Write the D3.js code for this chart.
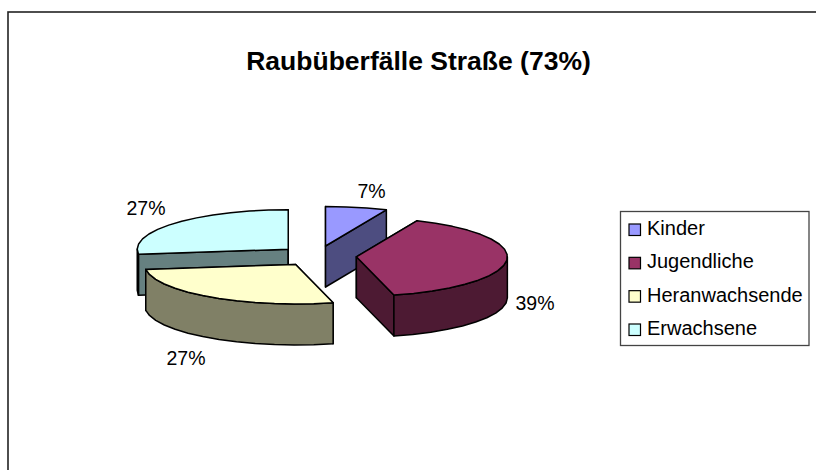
<!DOCTYPE html>
<html>
<head>
<meta charset="utf-8">
<script src="https://cdn.jsdelivr.net/npm/d3@7"></script>
<style>
  html, body { margin: 0; padding: 0; background: #fff; }
  svg { display: block; }
  text { font-family: "Liberation Sans", Arial, sans-serif; fill: #000; }
</style>
</head>
<body>
<div id="chart"></div>
<script>
var categories = ["Kinder", "Jugendliche", "Heranwachsende", "Erwachsene"];
var values = [6.6, 39.4, 27, 27];
var valueLabels = ["7%", "39%", "27%", "27%"];
var topColors = ["#9999ff", "#993366", "#ffffcc", "#ccffff"];
var sideColors = ["#4d4d80", "#4d1a33", "#808066", "#668080"];
var chartTitle = "Raubüberfälle Straße (73%)";

var width = 816, height = 470;
var centerX = 317.5, centerY = 256;
var radiusX = 151, radiusY = 39.5, depth = 41, explode = 39;
var tau = 2 * Math.PI;

// order the slices are painted in, back to front
var paintOrder = [3, 2, 0, 1];

var labelPos = [
  {x: 371.5, y: 198}, {x: 535, y: 310}, {x: 186, y: 364.5}, {x: 146, y: 214.5}
];

var svg = d3.select("#chart").append("svg")
  .attr("width", width)
  .attr("height", height);

// chart frame, runs off the right and bottom of the picture
svg.append("rect")
  .attr("x", 8)
  .attr("y", 12)
  .attr("width", width)
  .attr("height", height)
  .attr("fill", "#fff")
  .attr("stroke", "#222")
  .attr("stroke-width", 1.6);

svg.append("text")
  .attr("x", 418.5)
  .attr("y", 70)
  .attr("text-anchor", "middle")
  .attr("font-size", 26.5)
  .attr("font-weight", "bold")
  .text(chartTitle);

var arcs = d3.pie().sort(null).startAngle(0).endAngle(tau)(values);

var scaleX = d3.scaleLinear().domain([-1, 1]).range([-radiusX, radiusX]);
var scaleY = d3.scaleLinear().domain([-1, 1]).range([-radiusY, radiusY]);

function rim(a0, a1, dx, dy) {
  // points along the ellipse, coarse steps give the polygon edge of the original
  var n = Math.max(1, Math.ceil((a1 - a0) / 0.14));
  return d3.range(n + 1).map(function(i) {
    var a = a0 + (a1 - a0) * i / n;
    return [dx + scaleX(Math.sin(a)), dy + scaleY(-Math.cos(a))];
  });
}

var line = d3.line();
var pies = svg.append("g");

paintOrder.forEach(function(idx) {
  var d = arcs[idx];
  var mid = (d.startAngle + d.endAngle) / 2;
  var cx = centerX + explode * Math.sin(mid);
  var cy = centerY - explode * (radiusY / radiusX) * Math.cos(mid);
  var g = pies.append("g");

  function side(points) {
    var low = points.map(function(p) { return [p[0], p[1] + depth]; }).reverse();
    g.append("path")
      .attr("d", line(points.concat(low)) + "Z")
      .attr("fill", sideColors[idx])
      .attr("stroke", "#000")
      .attr("stroke-width", 1.5)
      .attr("stroke-linejoin", "round");
  }

  // cut faces
  [d.startAngle, d.endAngle].forEach(function(a) {
    side([[cx, cy], rim(a, a, cx, cy)[0]]);
  });

  // outer wall, only the front half shows
  var w0 = Math.max(d.startAngle, tau / 4);
  var w1 = Math.min(d.endAngle, 3 * tau / 4);
  if (w1 > w0) side(rim(w0, w1, cx, cy));

  g.append("path")
    .attr("d", line([[cx, cy]].concat(rim(d.startAngle, d.endAngle, cx, cy))) + "Z")
    .attr("fill", topColors[idx])
    .attr("stroke", "#000")
    .attr("stroke-width", 1.5)
    .attr("stroke-linejoin", "round");
});

svg.selectAll("text.pct")
  .data(valueLabels)
  .enter().append("text")
  .attr("class", "pct")
  .attr("x", function(d, i) { return labelPos[i].x; })
  .attr("y", function(d, i) { return labelPos[i].y; })
  .attr("text-anchor", "middle")
  .attr("font-size", 19.5)
  .text(function(d) { return d; });

var legend = svg.append("g");

legend.append("rect")
  .attr("x", 620.5)
  .attr("y", 211.5)
  .attr("width", 188.5)
  .attr("height", 134)
  .attr("fill", "#fff")
  .attr("stroke", "#444")
  .attr("stroke-width", 1.3);

var legendY = d3.scalePoint().domain(categories).range([230, 330]);

legend.selectAll("rect.key")
  .data(categories)
  .enter().append("rect")
  .attr("class", "key")
  .attr("x", 629)
  .attr("y", function(d) { return legendY(d) - 6; })
  .attr("width", 11.5)
  .attr("height", 11.5)
  .attr("fill", function(d, i) { return topColors[i]; })
  .attr("stroke", "#000")
  .attr("stroke-width", 1.2);

legend.selectAll("text.name")
  .data(categories)
  .enter().append("text")
  .attr("class", "name")
  .attr("x", 647)
  .attr("y", function(d) { return legendY(d) + 5; })
  .attr("font-size", 20)
  .text(function(d) { return d; });
</script>
</body>
</html>
